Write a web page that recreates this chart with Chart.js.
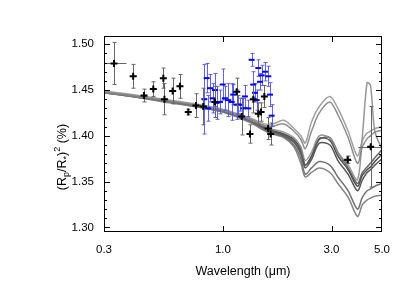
<!DOCTYPE html>
<html>
<head>
<meta charset="utf-8">
<script src="https://cdn.jsdelivr.net/npm/chart.js@4.4.1/dist/chart.umd.min.js"></script>
<style>body{margin:0;background:#fff}</style>
</head>
<body>
<canvas id="spec" width="415" height="298"></canvas>
<script>
// black points (ground based + spitzer), wavelength in um
const blackWave = [0.332, 0.403, 0.450, 0.494, 0.547, 0.553, 0.601, 0.647, 0.704, 0.761, 0.819, 0.922, 1.149, 1.208, 1.314, 1.360, 1.430, 1.470, 1.520, 1.580, 1.620, 3.53, 4.46];
const blackVal = [1.479, 1.465, 1.444, 1.451, 1.463, 1.440, 1.449, 1.454, 1.426, 1.433, 1.432, 1.437, 1.448, 1.421, 1.402, 1.440, 1.424, 1.426, 1.443, 1.408, 1.402, 1.374, 1.388];
const blackErr = [0.023, 0.013, 0.007, 0.008, 0.011, 0.017, 0.014, 0.013, 0.003, 0.013, 0.020, 0.017, 0.015, 0.020, 0.010, 0.015, 0.012, 0.010, 0.012, 0.012, 0.012, 0.004, 0.044];
const blackWaveLo = [0.300, 0.390, 0.435, 0.480, 0.538, 0.545, 0.590, 0.635, 0.690, 0.750, 0.812, 0.915, 1.140, 1.200, 1.305, 1.350, 1.420, 1.460, 1.510, 1.570, 1.610, 3.27, 3.93];
const blackWaveHi = [0.377, 0.418, 0.465, 0.510, 0.556, 0.561, 0.612, 0.660, 0.718, 0.772, 0.826, 0.929, 1.158, 1.216, 1.323, 1.370, 1.440, 1.480, 1.530, 1.590, 1.630, 3.68, 4.96];

// blue points (WFC3)
const blueWave = [0.828, 0.848, 0.860, 0.877, 0.901, 0.922, 0.938, 0.970, 0.997, 1.020, 1.055, 1.092, 1.110, 1.148, 1.168, 1.188, 1.228, 1.249, 1.292, 1.337, 1.359, 1.382, 1.406, 1.430, 1.454, 1.479, 1.529, 1.582, 1.609, 1.637];
const blueVal = [1.440, 1.463, 1.430, 1.452, 1.441, 1.450, 1.436, 1.437, 1.456, 1.441, 1.439, 1.437, 1.445, 1.434, 1.434, 1.434, 1.430, 1.443, 1.430, 1.483, 1.456, 1.447, 1.439, 1.474, 1.459, 1.466, 1.470, 1.465, 1.445, 1.422];
const blueErr = [0.038, 0.016, 0.014, 0.015, 0.016, 0.018, 0.018, 0.013, 0.017, 0.013, 0.018, 0.020, 0.011, 0.016, 0.010, 0.007, 0.011, 0.012, 0.009, 0.007, 0.014, 0.010, 0.011, 0.009, 0.009, 0.011, 0.010, 0.011, 0.013, 0.012];

// model spectra
const modelWave = [0.30, 0.40, 0.55, 0.75, 1.00, 1.30, 1.60, 1.85, 2.05, 2.20, 2.30, 2.45, 2.65, 2.95, 3.20, 3.55, 3.90, 4.10, 4.30, 4.45, 4.65, 5.00];
const models = [
  [1.449, 1.445, 1.440, 1.435, 1.429, 1.420, 1.412, 1.417, 1.408, 1.400, 1.392, 1.415, 1.432, 1.443, 1.430, 1.405, 1.378, 1.395, 1.403, 1.405, 1.408, 1.410],
  [1.448, 1.444, 1.439, 1.434, 1.428, 1.419, 1.410, 1.413, 1.405, 1.396, 1.386, 1.405, 1.425, 1.437, 1.423, 1.398, 1.370, 1.388, 1.397, 1.400, 1.404, 1.406],
  [1.448, 1.444, 1.439, 1.434, 1.428, 1.418, 1.408, 1.404, 1.398, 1.388, 1.373, 1.382, 1.400, 1.398, 1.382, 1.368, 1.352, 1.400, 1.458, 1.455, 1.405, 1.385],
  [1.447, 1.443, 1.437, 1.432, 1.426, 1.415, 1.403, 1.398, 1.388, 1.370, 1.355, 1.360, 1.365, 1.360, 1.348, 1.333, 1.312, 1.325, 1.330, 1.332, 1.334, 1.335],
  [1.447, 1.443, 1.438, 1.432, 1.426, 1.416, 1.404, 1.399, 1.390, 1.375, 1.358, 1.365, 1.372, 1.368, 1.355, 1.340, 1.320, 1.333, 1.340, 1.342, 1.345, 1.348],
  [1.448, 1.444, 1.439, 1.433, 1.427, 1.417, 1.405, 1.401, 1.394, 1.383, 1.368, 1.377, 1.396, 1.398, 1.382, 1.365, 1.348, 1.360, 1.366, 1.370, 1.376, 1.385],
  [1.447, 1.443, 1.438, 1.433, 1.427, 1.417, 1.406, 1.400, 1.393, 1.380, 1.365, 1.374, 1.392, 1.390, 1.373, 1.358, 1.340, 1.352, 1.360, 1.363, 1.368, 1.375],
  [1.448, 1.444, 1.439, 1.434, 1.428, 1.418, 1.407, 1.402, 1.396, 1.385, 1.368, 1.378, 1.397, 1.395, 1.378, 1.363, 1.345, 1.357, 1.363, 1.366, 1.372, 1.380]
];
const modelColors = ['rgba(150,150,150,0.9)', 'rgba(130,130,130,0.9)', 'rgba(140,140,140,0.9)', 'rgba(120,120,120,0.9)',
  'rgba(100,100,100,0.9)', 'rgba(90,90,90,0.9)', 'rgba(70,70,70,0.9)', 'rgba(60,60,60,0.9)'];

const xTicks = [0.3, 1.0, 3.0, 5.0];
const yTicks = [1.30, 1.35, 1.40, 1.45, 1.50];

const FONT = "'Liberation Sans', Arial, Helvetica, sans-serif";

const pts = (xs, ys) => xs.map((x, i) => ({x: x, y: ys[i]}));

const datasets = [];
datasets.push({
  label: 'black', type: 'scatter', data: pts(blackWave, blackVal),
  pointStyle: 'cross', pointRadius: 3.5, borderColor: '#000', borderWidth: 2,
  yErr: blackErr, xLo: blackWaveLo, xHi: blackWaveHi, errColor: '#666'
});
datasets.push({
  label: 'blue', type: 'scatter', data: pts(blueWave, blueVal),
  pointStyle: 'line', pointRadius: 3, borderColor: '#0000ff', borderWidth: 2,
  yErr: blueErr, errColor: 'rgba(70,70,255,0.85)'
});
models.forEach((m, i) => {
  datasets.push({
    label: 'model' + i, type: 'line', data: pts(modelWave, m),
    borderColor: modelColors[i], borderWidth: 1.5, pointRadius: 0, tension: 0.3, fill: false
  });
});

const errorBars = {
  id: 'errorBars',
  beforeDatasetDraw(chart, args) {
    const ds = chart.data.datasets[args.index];
    if (!ds.yErr) return;
    const xs = chart.scales.x, ys = chart.scales.y, c = chart.ctx;
    c.save();
    c.strokeStyle = ds.errColor;
    c.lineWidth = 1;
    ds.data.forEach((p, i) => {
      const px = Math.round(xs.getPixelForValue(p.x)) + 0.5;
      const y0 = ys.getPixelForValue(p.y - ds.yErr[i]);
      const y1 = ys.getPixelForValue(p.y + ds.yErr[i]);
      c.beginPath();
      c.moveTo(px, y0); c.lineTo(px, y1);
      c.moveTo(px - 2, y0); c.lineTo(px + 2, y0);
      c.moveTo(px - 2, y1); c.lineTo(px + 2, y1);
      if (ds.xLo) {
        const py = Math.round(ys.getPixelForValue(p.y)) + 0.5;
        c.moveTo(xs.getPixelForValue(ds.xLo[i]), py);
        c.lineTo(xs.getPixelForValue(ds.xHi[i]), py);
      }
      c.stroke();
    });
    c.restore();
  }
};

// box with inward ticks, and y title with sub/superscripts
const frame = {
  id: 'frame',
  afterDraw(chart) {
    const a = chart.chartArea, c = chart.ctx, xs = chart.scales.x, ys = chart.scales.y;
    c.save();
    c.strokeStyle = '#000';
    c.lineWidth = 1;
    c.strokeRect(a.left + 0.5, a.top + 0.5, a.right - a.left - 1, a.bottom - a.top - 1);
    c.beginPath();
    for (let k = 130; k <= 150; k++) {
      const v = k / 100;
      const py = Math.round(ys.getPixelForValue(v)) + 0.5;
      const len = k % 5 === 0 ? 6 : 3;
      c.moveTo(a.left, py); c.lineTo(a.left + len, py);
      c.moveTo(a.right, py); c.lineTo(a.right - len, py);
    }
    [1.0, 3.0].forEach(v => {
      const px = Math.round(xs.getPixelForValue(v)) + 0.5;
      c.moveTo(px, a.bottom); c.lineTo(px, a.bottom - 6);
      c.moveTo(px, a.top); c.lineTo(px, a.top + 6);
    });
    c.stroke();

    // y axis title
    const parts = [['(R', 0], ['p', 1], ['/R', 0], ['*', 1], [')', 0], ['2', -1], [' (%)', 0]];
    c.translate(62, 157);
    c.rotate(-Math.PI / 2);
    c.fillStyle = '#000';
    c.textBaseline = 'alphabetic';
    let total = 0;
    parts.forEach(p => {
      c.font = (p[1] ? 9 : 12.5) + 'px ' + FONT;
      total += c.measureText(p[0]).width;
    });
    let x = -total / 2;
    parts.forEach(p => {
      c.font = (p[1] ? 9 : 12.5) + 'px ' + FONT;
      const dy = p[1] === 1 ? 3 : (p[1] === -1 ? -6 : 0);
      c.fillText(p[0], x, 4 + dy);
      x += c.measureText(p[0]).width;
    });
    c.restore();
  }
};

new Chart(document.getElementById('spec'), {
  type: 'scatter',
  data: {datasets: datasets},
  plugins: [errorBars, frame],
  options: {
    responsive: false,
    animation: false,
    devicePixelRatio: 1,
    layout: {padding: {left: 0, right: 33, top: 36, bottom: 0}},
    plugins: {legend: {display: false}, tooltip: {enabled: false}},
    scales: {
      x: {
        type: 'logarithmic', min: 0.3, max: 5.0,
        grid: {display: false, drawTicks: false},
        border: {display: false},
        afterBuildTicks: s => { s.ticks = xTicks.map(v => ({value: v})); },
        afterFit: s => { s.height = 66; },
        ticks: {
          autoSkip: false, maxRotation: 0, padding: 11, color: '#000',
          font: {family: FONT, size: 11.5},
          callback: v => Number(v).toFixed(1)
        },
        title: {
          display: true, text: 'Wavelength (\u03bcm)', color: '#000',
          font: {family: FONT, size: 12.5}, padding: {top: 0, bottom: 19}
        }
      },
      y: {
        min: 1.295, max: 1.509,
        grid: {display: false, drawTicks: false},
        border: {display: false},
        afterBuildTicks: s => { s.ticks = yTicks.map(v => ({value: v})); },
        afterFit: s => { s.width = 104; },
        ticks: {
          padding: 10, color: '#000',
          font: {family: FONT, size: 11.5},
          callback: v => Number(v).toFixed(2)
        }
      }
    }
  }
});
</script>
</body>
</html>
